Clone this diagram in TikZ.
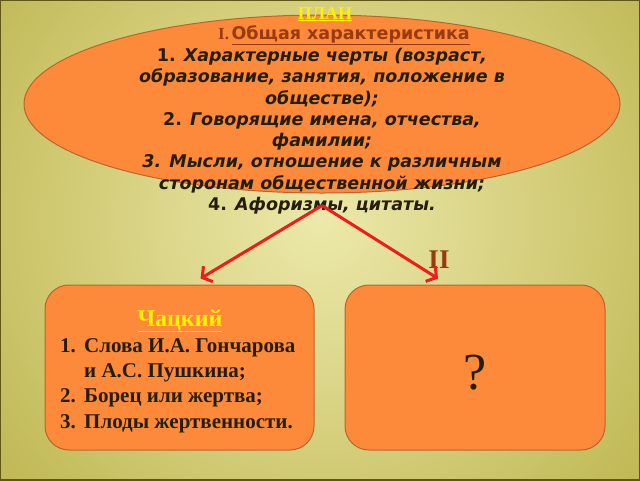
\documentclass[tikz,border=0pt]{standalone}
\usepackage{fontspec}
\setmainfont{Liberation Serif}
\newfontfamily\planfont{DejaVu Sans}[BoldFont={DejaVu Sans Bold},ItalicFont={DejaVu Sans Oblique},BoldItalicFont={DejaVu Sans Bold Oblique}]
\usetikzlibrary{arrows.meta,positioning,shapes.geometric}
\definecolor{bgin}{HTML}{ECE9AA}
\definecolor{bgout}{HTML}{B9B046}
\definecolor{frame}{HTML}{5E5718}
\definecolor{boxfill}{HTML}{FD8A3B}
\definecolor{boxedge}{HTML}{BE632C}
\definecolor{darktext}{HTML}{261E0C}
\definecolor{brown}{HTML}{9A3A10}
\definecolor{arrowred}{HTML}{EE1C1C}
\definecolor{titleyellow}{HTML}{FFF200}
\begin{document}
\begin{tikzpicture}[x=1pt,y=-1pt]
\tikzstyle{every node}+=[inner sep=0pt]
\tikzstyle{card}=[draw=boxedge, fill=boxfill, line width=1pt, rounded corners=24pt, minimum height=165pt]
\tikzstyle{branch}=[draw=arrowred, line width=3pt, -{Straight Barb[length=7pt,width=18pt]}]
\useasboundingbox (0,0) rectangle (640,480);
% background
\begin{scope}
\clip (0,0) rectangle (640,480);
\shade [inner color=bgin, outer color=bgout] (-160,-260) rectangle (800,700);
\end{scope}
\draw [frame, line width=1.5pt] (0,0) rectangle (640,480);
% plan
\node [ellipse, draw=boxedge, fill=boxfill, line width=1pt, minimum width=596pt, minimum height=178pt] (plan) at (322,104) {};
\node [anchor=base, text=titleyellow, font=\bfseries\fontsize{18}{18}\selectfont] (title) at (325,19) {\underline{ПЛАН}};
\node [anchor=base, text=brown] (part1) at (344,39) {{\bfseries\fontsize{17}{17}\selectfont I.} {\planfont\bfseries\fontsize{17.5}{17.5}\selectfont\underline{Общая характеристика}}};
\node [anchor=north, align=center, text=darktext, font=\planfont\bfseries\fontsize{17.5}{21.3}\selectfont] (points) at (322,48)
 {1. \textit{Характерные черты (возраст,}\\
  \textit{образование, занятия, положение в}\\
  \textit{обществе);}\\
  2. \textit{Говорящие имена, отчества,}\\
  \textit{фамилии;}\\
  \textit{3. Мысли, отношение к различным}\\
  \textit{сторонам общественной жизни;}\\
  4. \textit{Афоризмы, цитаты.}};
% cards
\node [card, minimum width=269pt] (chatsky) at (179.5,367.5) {};
\node [card, minimum width=260pt] (unknown) at (475,367.5) {};
\node [anchor=base, text=titleyellow, font=\bfseries\fontsize{24}{24}\selectfont] (name) at (180,326) {\underline{Чацкий}};
\node [anchor=north west, align=left, text=darktext, font=\bfseries\fontsize{21}{25.3}\selectfont] (list) at (60,338)
 {\makebox[24pt][l]{1.}Слова И.А. Гончарова\\
  \makebox[24pt][l]{}и А.С. Пушкина;\\
  \makebox[24pt][l]{2.}Борец или жертва;\\
  \makebox[24pt][l]{3.}Плоды жертвенности.};
\node [anchor=base, text=darktext, font=\fontsize{52}{52}\selectfont] (question) at (475,389) {?};
\node [anchor=base, text=brown, font=\bfseries\fontsize{27}{27}\selectfont] (part2) at (439,268) {II};
% arrows
\coordinate [below=12pt of plan.south] (fork);
\coordinate [above right=6pt and 21pt of chatsky.north] (lefttip);
\coordinate [above left=6pt and 37pt of unknown.north] (righttip);
\draw [branch] (fork) -- (lefttip);
\draw [branch] (fork) -- (righttip);
\end{tikzpicture}
\end{document}
